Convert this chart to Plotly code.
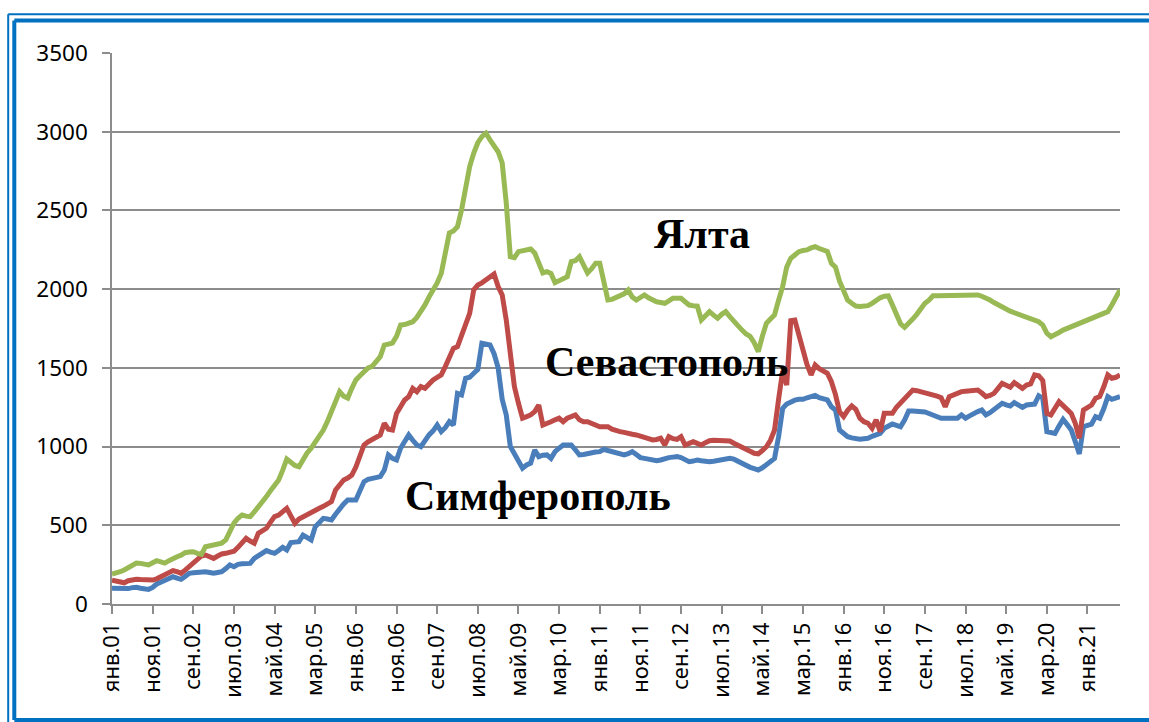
import plotly.graph_objects as go

# ---- data -------------------------------------------------------------
month_names = ["янв", "фев", "мар", "апр", "май", "июн",
               "июл", "авг", "сен", "окт", "ноя", "дек"]
n_points = 249  # янв.2001 .. сен.2021
categories = [f"{month_names[k % 12]}.{(1 + k // 12):02d}" for k in range(n_points)]
tick_labels = categories[::10]

yalta = [
    190, 195, 205, 216, 230, 250, 260, 258, 252, 248,
    262, 275, 268, 260, 275, 292, 300, 310, 326, 330,
    332, 322, 315, 364, 370, 372, 380, 387, 407, 470,
    514, 545, 565, 558, 555, 585, 618, 640, 682, 720,
    760, 788, 850, 920, 900, 880, 872, 920, 960, 990,
    1030, 1070, 1105, 1160, 1222, 1300, 1349, 1320, 1308, 1370,
    1423, 1450, 1480, 1500, 1510, 1540, 1571, 1645, 1650, 1657,
    1700, 1772, 1775, 1785, 1793, 1820, 1857, 1900, 1950, 1995,
    2039, 2100, 2230, 2357, 2370, 2397, 2503, 2650, 2778, 2865,
    2930, 2969, 2990, 2948, 2905, 2873, 2802, 2547, 2206, 2200,
    2238, 2245, 2249, 2255, 2230, 2160, 2103, 2111, 2100, 2041,
    2055, 2069, 2079, 2175, 2180, 2206, 2160, 2103, 2130, 2164,
    2164, 2050, 1931, 1935, 1945, 1952, 1970, 1995, 1950, 1931,
    1950, 1963, 1945, 1931, 1920, 1915, 1910, 1925, 1942, 1942,
    1942, 1920, 1899, 1895, 1892, 1804, 1830, 1857, 1835, 1815,
    1840, 1857, 1825, 1793, 1765, 1740, 1715, 1700, 1660, 1603,
    1700, 1783, 1810, 1836, 1930, 2016, 2140, 2196, 2217, 2238,
    2245, 2249, 2262, 2270, 2258, 2253, 2240, 2164, 2140, 2050,
    1984, 1930, 1910, 1893, 1890, 1889, 1895, 1910, 1931, 1945,
    1955, 1957, 1900, 1840, 1780, 1757, 1780, 1810, 1840, 1880,
    1910, 1930, 1958, 1958, 1958, 1958, 1958, 1958, 1958, 1958,
    1958, 1958, 1960, 1963, 1955, 1945, 1931, 1915, 1899, 1890,
    1875, 1860, 1850, 1840, 1830, 1820, 1810, 1800, 1793, 1772,
    1720, 1698, 1709, 1725, 1740, 1750, 1760, 1770, 1780, 1793,
    1805, 1815, 1825, 1835, 1845, 1857, 1899, 1940, 1995,
]

sevastopol = [
    152, 148, 140, 135, 148, 155, 157, 155, 152, 150,
    152, 160, 173, 180, 195, 212, 205, 195, 215, 240,
    260, 285, 305, 311, 300, 290, 305, 318, 322, 328,
    335, 360, 390, 417, 400, 386, 449, 465, 481, 520,
    555, 565, 585, 608, 560, 513, 540, 555, 565, 576,
    595, 608, 620, 635, 650, 724, 760, 788, 800, 819,
    870, 950, 1010, 1030, 1042, 1060, 1074, 1148, 1110, 1105,
    1210, 1253, 1296, 1317, 1370, 1349, 1381, 1370, 1400, 1423,
    1440, 1455, 1508, 1560, 1624, 1635, 1700, 1772, 1846, 1995,
    2026, 2040, 2058, 2078, 2096, 2016, 1963, 1804, 1593, 1381,
    1275, 1180, 1190, 1201, 1222, 1264, 1137, 1145, 1158, 1170,
    1180, 1158, 1180, 1190, 1201, 1170, 1158, 1158, 1145, 1137,
    1126, 1126, 1126, 1110, 1100, 1095, 1090, 1080, 1078, 1074,
    1063, 1058, 1050, 1042, 1045, 1053, 1010, 1063, 1050, 1046,
    1063, 1010, 1020, 1031, 1020, 1010, 1025, 1037, 1040, 1040,
    1042, 1042, 1035, 1021, 1010, 995, 983, 970, 957, 953,
    975, 999, 1040, 1105, 1300, 1480, 1391, 1800, 1804, 1700,
    1614, 1520, 1455, 1518, 1495, 1480, 1466, 1412, 1330, 1220,
    1190, 1230, 1258, 1237, 1180, 1158, 1148, 1116, 1170, 1095,
    1211, 1211, 1211, 1250, 1280, 1307, 1330, 1359, 1355, 1349,
    1345, 1335, 1328, 1320, 1310, 1253, 1317, 1330, 1340, 1349,
    1352, 1355, 1359, 1359, 1340, 1317, 1325, 1338, 1370, 1402,
    1390, 1377, 1406, 1385, 1370, 1391, 1398, 1455, 1450, 1420,
    1211, 1201, 1240, 1285, 1260, 1230, 1211, 1148, 1053, 1232,
    1253, 1264, 1307, 1317, 1380, 1455, 1434, 1440, 1455,
]

simferopol = [
    100, 98, 95, 93, 98, 104, 106, 100, 95, 93,
    105, 127, 138, 152, 162, 173, 165, 157, 175, 195,
    198, 202, 205, 205, 200, 195, 200, 205, 225, 248,
    237, 252, 255, 256, 258, 290, 305, 322, 339, 330,
    322, 340, 360, 343, 390, 393, 396, 438, 420, 407,
    491, 520, 544, 540, 534, 570, 608, 635, 661, 661,
    661, 720, 777, 792, 795, 798, 809, 851, 947, 925,
    915, 989, 1030, 1074, 1040, 1010, 999, 1040, 1074, 1100,
    1137, 1095, 1120, 1158, 1137, 1338, 1328, 1434, 1440, 1466,
    1490, 1656, 1650, 1645, 1590, 1500, 1300, 1201, 1000, 957,
    900, 862, 883, 895, 978, 936, 945, 947, 925, 968,
    990, 1010, 1010, 1010, 980, 947, 950, 957, 960, 965,
    968, 983, 975, 968, 968, 960, 947, 955, 968, 950,
    930, 925, 920, 915, 910, 915, 925, 930, 933, 936,
    930, 915, 904, 908, 915, 910, 904, 904, 907, 910,
    915, 920, 925, 920, 905, 889, 878, 868, 860, 851,
    865, 883, 905, 925, 1063, 1243, 1270, 1285, 1295, 1300,
    1300, 1310, 1317, 1325, 1311, 1305, 1296, 1253, 1232, 1105,
    1080, 1063, 1055, 1050, 1046, 1050, 1053, 1065, 1075, 1084,
    1116, 1130, 1143, 1135, 1126, 1169, 1226, 1226, 1226, 1226,
    1220, 1210, 1201, 1190, 1180, 1180, 1180, 1180, 1180, 1201,
    1180, 1195, 1211, 1222, 1232, 1201, 1215, 1232, 1255, 1275,
    1265, 1258, 1279, 1262, 1249, 1264, 1266, 1270, 1323, 1307,
    1095, 1090, 1084, 1130, 1173, 1140, 1105, 1031, 953, 1126,
    1135, 1143, 1190, 1180, 1240, 1317, 1300, 1305, 1317,
]

series_names = ["Симферополь", "Севастополь", "Ялта"]
y_ticks = [0, 500, 1000, 1500, 2000, 2500, 3000, 3500]

# ---- layout geometry (page pixels; body margin removed via post_script) --
W, H = 1149, 722
PLOT_LEFT, PLOT_RIGHT, PLOT_TOP, PLOT_BOTTOM = 112, 1120, 53, 604
L, T = PLOT_LEFT, PLOT_TOP
R, B = W - PLOT_RIGHT, H - PLOT_BOTTOM
PW, PH = W - L - R, H - T - B


def px(xp):
    return (xp - L) / PW


def py(yp):
    return (H - B - yp) / PH


fig = go.Figure()
colors = {"Симферополь": "#4A7EBB", "Севастополь": "#BE4B48", "Ялта": "#98B954"}
for name, vals in zip(series_names, [simferopol, sevastopol, yalta]):
    fig.add_trace(go.Scatter(
        x=categories, y=vals, mode="lines", name=name,
        line=dict(color=colors[name], width=5),
        hoverinfo="x+y+name",
    ))

label_font = dict(family="Liberation Serif", size=42, color="black")
annots = [
    ("Ялта", 702, 234),
    ("Севастополь", 666, 362),
    ("Симферополь", 538, 496),
]
for text, xp, yp in annots:
    fig.add_annotation(text=f"<b>{text}</b>", x=px(xp), y=py(yp),
                       xref="paper", yref="paper", showarrow=False,
                       font=label_font, xanchor="center", yanchor="middle")

# double blue frame (only top, left and bottom edges are visible)
blue = "#0070C0"
frame_lines = [
    # (x0, y0, x1, y1, width) in page pixels
    (8.2, 14.2, 1149, 14.2, 2),     # outer top
    (8.2, 14.2, 8.2, 722, 2),       # outer left
    (14.3, 20.5, 1149, 20.5, 4),    # inner top
    (14.3, 20.5, 14.3, 720, 4),     # inner left
    (14.3, 720, 1149, 720, 4),      # inner bottom
]
for x0, y0, x1, y1, w in frame_lines:
    fig.add_shape(type="line", xref="paper", yref="paper",
                  x0=px(x0), y0=py(y0), x1=px(x1), y1=py(y1),
                  line=dict(color=blue, width=w), layer="above")

grid = "#8C8C8C"
fig.update_layout(
    width=W, height=H,
    margin=dict(l=L, r=R, t=T, b=B, autoexpand=False),
    paper_bgcolor="white", plot_bgcolor="white",
    showlegend=False,
    font=dict(family="Noto Sans", size=22, color="black"),
    xaxis=dict(
        type="category", range=[0, n_points - 1],
        tickvals=tick_labels, ticktext=tick_labels,
        tickangle=-90, ticks="outside", ticklen=8, tickwidth=1.5,
        tickcolor=grid, showline=True, linecolor=grid, linewidth=1.5,
        showgrid=False, zeroline=False, automargin=False,
        tickfont=dict(family="Noto Sans", size=22, color="black"),
    ),
    yaxis=dict(
        range=[0, 3500], tickvals=y_ticks,
        ticks="outside", ticklen=8, tickwidth=1.5, tickcolor=grid,
        showline=True, linecolor=grid, linewidth=1.5,
        showgrid=True, gridcolor=grid, gridwidth=1.5, zeroline=False,
        automargin=False, ticklabelstandoff=10,
        tickfont=dict(family="Noto Sans", size=22.5, color="black"),
    ),
)

fig.write_html(
    "out.html",
    config={"displayModeBar": False},
    post_script="document.body.style.margin='0';document.body.style.overflow='hidden';",
)
